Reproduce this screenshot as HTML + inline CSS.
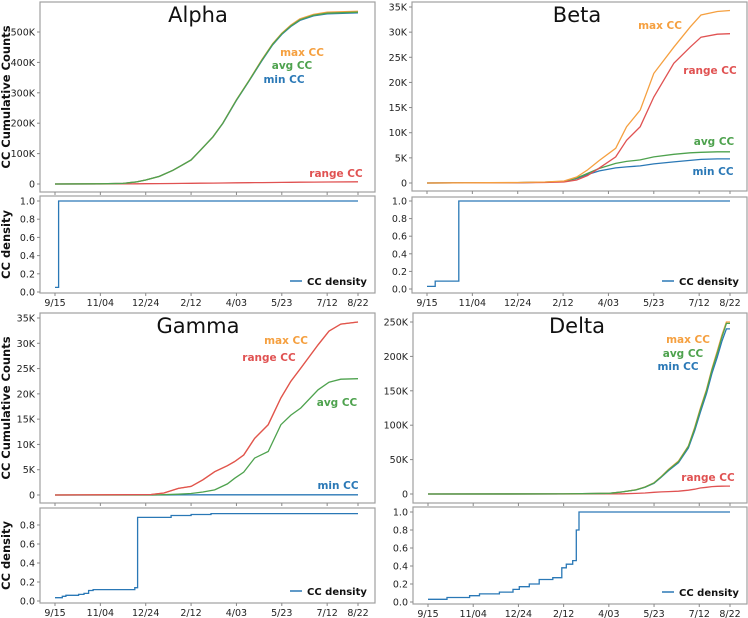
<!DOCTYPE html>
<html><head><meta charset="utf-8"><style>
body{margin:0;background:#fff;}
svg{display:block;font-family:"DejaVu Sans","Liberation Sans",sans-serif;}
</style></head><body>
<svg id="chart" width="748" height="618" viewBox="0 0 748 618"></svg>
<script>
const tickDays=[0,50,100,150,200,250,300,334];
const tickLabels=["9/15","11/04","12/24","2/12","4/03","5/23","7/12","8/22"];
// Alpha
const alphaDays=[0,50,75,90,100,115,130,140,150,160,174,185,200,214,228,240,250,260,270,285,300,334];
const alphaAvg=[0,500,2000,7000,13000,25000,45000,62000,79000,110000,155000,200000,276000,340000,407000,460000,494000,520000,540000,555000,562000,565000];
const alphaMax=[0,500,2000,7000,13000,25000,45000,62000,79000,110000,155000,200000,277000,341000,409000,462000,496000,523000,543000,558000,565000,568000];
const alphaMin=[0,500,2000,7000,13000,25000,45000,62000,79000,110000,155000,199000,275000,339000,405000,458000,492000,518000,538000,553000,560000,563000];
const alphaRange=[0,100,300,600,900,1200,1600,1900,2200,2600,3000,3300,3800,4200,4600,5000,5300,5600,5900,6300,6700,7200];
const alphaDensDays=[0,4,334];
const alphaDens=[0.05,1.0,1.0];
// Beta
const betaDays=[0,100,130,151,165,177,190,208,220,235,250,272,290,302,320,334];
const betaMax=[0,100,200,400,1200,2600,4500,6900,11200,14500,21800,27000,31000,33400,34100,34300];
const betaRange=[0,50,100,200,600,1500,3000,5200,8500,11200,17100,23800,27000,29000,29600,29700];
const betaAvg=[0,80,150,300,1000,1900,2900,3900,4300,4600,5200,5700,6000,6100,6200,6200];
const betaMin=[0,80,150,300,900,1700,2400,3000,3200,3400,3800,4200,4500,4700,4800,4800];
const betaDensDays=[0,9,35,334];
const betaDens=[0.03,0.09,1.0,1.0];
// Gamma
const gammaDays=[0,106,120,136,150,163,176,190,198,208,220,235,249,260,271,290,302,315,334];
const gammaRange=[0,100,400,1300,1700,3000,4600,5800,6600,7900,11200,13900,19200,22500,25100,29700,32400,33800,34200];
const gammaMax=[0,100,400,1300,1700,3000,4600,5800,6600,7900,11200,13900,19200,22500,25100,29700,32400,33800,34200];
const gammaAvg=[0,0,50,150,300,600,1000,2200,3300,4500,7300,8600,13900,15800,17200,20800,22300,22900,23000];
const gammaMin=[0,0,0,10,20,30,40,40,40,40,40,40,40,40,40,40,40,40,40];
const gammaDensDays=[0,8,12,26,32,37,42,88,91,128,150,172,334];
const gammaDens=[0.035,0.05,0.06,0.07,0.08,0.11,0.12,0.14,0.88,0.9,0.91,0.92,0.92];
// Delta
const deltaDays=[0,150,201,215,230,240,250,258,266,277,288,295,301,308,314,320,325,330,334];
const deltaAvg=[0,200,1000,3000,6000,10000,16000,25000,35000,47000,69000,95000,122000,150000,180000,205000,228000,248000,248000];
const deltaMax=[0,200,1000,3000,6100,10200,16300,25500,35700,48000,70000,97000,124000,152000,182000,208000,231000,250000,250000];
const deltaMin=[0,200,1000,3000,5900,9800,15600,24500,34000,45500,67000,92000,118000,146000,175000,199000,222000,240000,240000];
const deltaRange=[0,0,100,300,800,1500,2400,3000,3500,4000,5500,7000,8700,9800,10800,11200,11400,11500,11500];
const deltaDensDays=[0,21,46,57,79,94,101,112,123,138,148,153,160,164,167,334];
const deltaDens=[0.03,0.05,0.07,0.09,0.11,0.14,0.17,0.2,0.25,0.27,0.38,0.42,0.46,0.8,1.0,1.0];

const C={max:"#f5a040",avg:"#4ea24e",min:"#2a78b6",range:"#e05252",dens:"#2a78b6"};
const NS="http://www.w3.org/2000/svg";
const svg=document.getElementById('chart');
function mk(tag,attrs,parent){const e=document.createElementNS(NS,tag);for(const k in attrs)e.setAttribute(k,attrs[k]);(parent||svg).appendChild(e);return e;}
function fmtK(v){return v===0?"0":(v/1000)+"K";}

function panel(p){
  const g=mk('g',{});
  
  
  const x=d=>p.L+15+d*(p.R-p.L-32)/334;
  const y=v=>p.y0-(v/p.yRef)*(p.y0-p.yRefPx);
  const yd=v=>p.d0-(v/p.dRef)*(p.d0-p.dRefPx);
  const f1=mk('rect',{x:p.L,y:p.T,width:p.R-p.L,height:p.B-p.T,fill:'none',stroke:'#a0a0a0','stroke-width':1.2},g);
  
  
  const f2=mk('rect',{x:p.L,y:p.DT,width:p.R-p.L,height:p.DB-p.DT,fill:'none',stroke:'#a0a0a0','stroke-width':1.2},g);
  
  
  p.yTicks.forEach(v=>{
    const t=mk('text',{x:p.L-5,y:y(v)+3.5,'text-anchor':'end','font-size':9.5,fill:'#222'},g);
    t.textContent=fmtK(v);
    
    
    mk('line',{x1:p.L-3,x2:p.L,y1:y(v),y2:y(v),stroke:'#888'},g);
  });
  p.dTicks.forEach(v=>{
    const t=mk('text',{x:p.L-5,y:yd(v)+3.5,'text-anchor':'end','font-size':9.5,fill:'#222'},g);
    t.textContent=v.toFixed(1);
    
    
    mk('line',{x1:p.L-3,x2:p.L,y1:yd(v),y2:yd(v),stroke:'#888'},g);
  });
  tickDays.forEach((d,i)=>{
    mk('line',{x1:x(d),x2:x(d),y1:p.B,y2:p.B+3,stroke:'#888'},g);
    mk('line',{x1:x(d),x2:x(d),y1:p.DB,y2:p.DB+3,stroke:'#888'},g);
    const t=mk('text',{x:x(d),y:p.DB+13,'text-anchor':'middle','font-size':9.5,fill:'#222'},g);
    t.textContent=tickLabels[i];
    
    
  });
  p.series.forEach(s=>{
    const pts=s.days.map((d,i)=>x(d).toFixed(1)+','+y(s.vals[i]).toFixed(1)).join(' ');
    const l=mk('polyline',{points:pts,fill:'none',stroke:C[s.c],'stroke-width':1.3},g);
    
    
  });
  let dp=[];
  p.dDays.forEach((d,i)=>{ if(i>0)dp.push(x(d).toFixed(1)+','+yd(p.dVals[i-1]).toFixed(1)); dp.push(x(d).toFixed(1)+','+yd(p.dVals[i]).toFixed(1));});
  const dl=mk('polyline',{points:dp.join(' '),fill:'none',stroke:C.dens,'stroke-width':1.3},g);
  
  
  const tt=mk('text',{x:p.tx,y:p.ty,'text-anchor':'middle','font-size':21,fill:'#111'},g);
  tt.textContent=p.title;
  
  
  p.labels.forEach(lb=>{
    const t=mk('text',{x:lb[1],y:lb[2],'text-anchor':'middle','font-size':10.5,'font-weight':'bold',fill:C[lb[0]]},g);
    t.textContent=lb[0]+' CC';
    
    
  });
  const lx=p.R-85, ly=p.DB-12;
  mk('line',{x1:lx,x2:lx+12,y1:ly,y2:ly,stroke:C.dens,'stroke-width':1.5},g);
  const lt=mk('text',{x:lx+17,y:ly+4,'font-size':10,'font-weight':'bold',fill:'#111'},g);
  lt.textContent='CC density';
  
  
  if(p.yTitle){
    const a=mk('text',{transform:`translate(10,${(p.T+p.B)/2}) rotate(-90)`,'text-anchor':'middle','font-size':11.5,'font-weight':'bold',fill:'#111'},g);
    a.textContent='CC Cumulative Counts';
    
    
    const b=mk('text',{transform:`translate(10,${(p.DT+p.DB)/2}) rotate(-90)`,'text-anchor':'middle','font-size':11.5,'font-weight':'bold',fill:'#111'},g);
    b.textContent='CC density';
    
    
  }
}

panel({key:'alpha',title:'Alpha',L:40,R:375,T:2,B:192,DT:196,DB:293,y0:184,yRef:500000,yRefPx:32,d0:292,dRef:1,dRefPx:201,
  yTicks:[0,100000,200000,300000,400000,500000],dTicks:[0,0.2,0.4,0.6,0.8,1.0],
  series:[{days:alphaDays,vals:alphaRange,c:'range'},{days:alphaDays,vals:alphaMin,c:'min'},{days:alphaDays,vals:alphaMax,c:'max'},{days:alphaDays,vals:alphaAvg,c:'avg'}],
  dDays:alphaDensDays,dVals:alphaDens,tx:198,ty:22,yTitle:true,
  labels:[['max',302,56],['avg',292,69],['min',284,83],['range',336,177]]});
panel({key:'beta',title:'Beta',L:412,R:747,T:2,B:191,DT:197,DB:293,y0:183,yRef:35000,yRefPx:7,d0:289,dRef:1,dRefPx:201,
  yTicks:[0,5000,10000,15000,20000,25000,30000,35000],dTicks:[0,0.2,0.4,0.6,0.8,1.0],
  series:[{days:betaDays,vals:betaMin,c:'min'},{days:betaDays,vals:betaAvg,c:'avg'},{days:betaDays,vals:betaRange,c:'range'},{days:betaDays,vals:betaMax,c:'max'}],
  dDays:betaDensDays,dVals:betaDens,tx:577,ty:22,yTitle:false,
  labels:[['max',660,29],['range',710,74],['avg',714,145],['min',713,175]]});
panel({key:'gamma',title:'Gamma',L:40,R:375,T:313,B:503,DT:508,DB:603,y0:495,yRef:35000,yRefPx:318,d0:601,dRef:0.8,dRefPx:525,
  yTicks:[0,5000,10000,15000,20000,25000,30000,35000],dTicks:[0,0.2,0.4,0.6,0.8],
  series:[{days:gammaDays,vals:gammaMin,c:'min'},{days:gammaDays,vals:gammaAvg,c:'avg'},{days:gammaDays,vals:gammaMax,c:'max'},{days:gammaDays,vals:gammaRange,c:'range'}],
  dDays:gammaDensDays,dVals:gammaDens,tx:198,ty:333,yTitle:true,
  labels:[['max',286,344],['range',269,361],['avg',337,406],['min',338,489]]});
panel({key:'delta',title:'Delta',L:413,R:747,T:313,B:503,DT:507,DB:604,y0:494,yRef:250000,yRefPx:322,d0:602,dRef:1,dRefPx:512,
  yTicks:[0,50000,100000,150000,200000,250000],dTicks:[0,0.2,0.4,0.6,0.8,1.0],
  series:[{days:deltaDays,vals:deltaRange,c:'range'},{days:deltaDays,vals:deltaMin,c:'min'},{days:deltaDays,vals:deltaMax,c:'max'},{days:deltaDays,vals:deltaAvg,c:'avg'}],
  dDays:deltaDensDays,dVals:deltaDens,tx:577,ty:333,yTitle:false,
  labels:[['max',688,343],['avg',683,357],['min',678,370],['range',708,481]]});
</script>
</body></html>
